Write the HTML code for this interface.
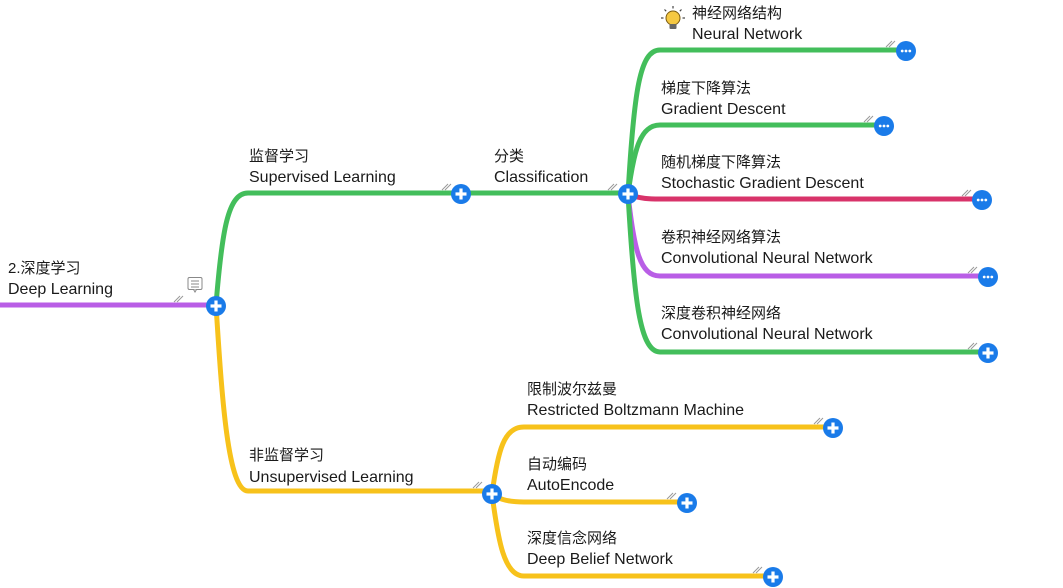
<!DOCTYPE html>
<html><head><meta charset="utf-8"><style>
html,body{margin:0;padding:0;background:#fff;width:1063px;height:588px;overflow:hidden}
svg text{font-family:"Liberation Sans","Noto Sans CJK SC",sans-serif;font-size:15px;fill:#1a1a1a}
svg text.e{font-size:16px}
</style></head><body>
<svg width="1063" height="588" viewBox="0 0 1063 588" xmlns="http://www.w3.org/2000/svg">
<defs>
<g id="plus"><circle r="10" fill="#1a7be9"/><rect x="-5.5" y="-1.6" width="11" height="3.2" fill="#fff"/><rect x="-1.6" y="-5.5" width="3.2" height="11" fill="#fff"/></g>
<g id="dots"><circle r="10" fill="#1a7be9"/><circle cx="-3.8" r="1.4" fill="#fff"/><circle r="1.4" fill="#fff"/><circle cx="3.8" r="1.4" fill="#fff"/></g>
<g id="hash" stroke="#999" stroke-width="1"><line x1="-4" y1="3" x2="2" y2="-3"/><line x1="-1" y1="3" x2="5" y2="-3"/></g>
</defs>
<g fill="none" stroke-width="5" stroke-linecap="round">
<path d="M0,305 L216,305" stroke="#b95ee6"/>
<path d="M216,305 C222,230 228,193 248,193 L461,193 L628,193" stroke="#43be5b"/>
<path d="M216,305 C222,400 228,491 248,491 L492,491" stroke="#f7c21b"/>
<path d="M628,194 C634,90 640,50 660,50 L905,50" stroke="#43be5b"/>
<path d="M628,194 C634,150 640,125 660,125 L883,125" stroke="#43be5b"/>
<path d="M628,194 C640,199 650,199 660,199 L982,199" stroke="#d8336a"/>
<path d="M628,194 C634,250 640,276 660,276 L988,276" stroke="#b95ee6"/>
<path d="M628,194 C634,300 640,352 660,352 L988,352" stroke="#43be5b"/>
<path d="M492,494 C498,450 504,427 524,427 L833,427" stroke="#f7c21b"/>
<path d="M492,494 C500,500 510,502 524,502 L687,502" stroke="#f7c21b"/>
<path d="M492,494 C498,540 504,576 524,576 L773,576" stroke="#f7c21b"/>
</g>
<use href="#hash" x="178" y="299"/><use href="#hash" x="446" y="187"/><use href="#hash" x="612" y="187"/>
<use href="#hash" x="477" y="485"/><use href="#hash" x="890" y="44"/><use href="#hash" x="868" y="119"/>
<use href="#hash" x="966" y="193"/><use href="#hash" x="972" y="270"/><use href="#hash" x="972" y="346"/>
<use href="#hash" x="818" y="421"/><use href="#hash" x="671" y="496"/><use href="#hash" x="757" y="570"/>
<use href="#plus" x="216" y="306"/><use href="#plus" x="461" y="194"/><use href="#plus" x="628" y="194"/>
<use href="#plus" x="492" y="494"/><use href="#plus" x="988" y="353"/><use href="#plus" x="833" y="428"/>
<use href="#plus" x="687" y="503"/><use href="#plus" x="773" y="577"/>
<use href="#dots" x="906" y="51"/><use href="#dots" x="884" y="126"/><use href="#dots" x="982" y="200"/><use href="#dots" x="988" y="277"/>
<g transform="translate(195,284)"><rect x="-7" y="-6.5" width="14" height="12" rx="1.5" fill="#fff" stroke="#888" stroke-width="1"/><line x1="-4" y1="-3" x2="4" y2="-3" stroke="#888"/><line x1="-4" y1="0" x2="4" y2="0" stroke="#888"/><line x1="-4" y1="3" x2="4" y2="3" stroke="#888"/><path d="M-1.5,5.5 L0,8 L1.5,5.5" fill="#fff" stroke="#888"/></g>
<g transform="translate(673,18)"><circle r="7" fill="#f5c842" stroke="#7a5a10" stroke-width="1"/><rect x="-3.5" y="6" width="7" height="5" rx="1" fill="#666"/><g stroke="#444" stroke-width="1.2"><line x1="-12" y1="0" x2="-9.5" y2="0"/><line x1="9.5" y1="0" x2="12" y2="0"/><line x1="0" y1="-12" x2="0" y2="-9.5"/><line x1="-8.5" y1="-8.5" x2="-6.8" y2="-6.8"/><line x1="8.5" y1="-8.5" x2="6.8" y2="-6.8"/></g></g>
<text x="8" y="273">2.深度学习</text><text class="e" x="8" y="294">Deep Learning</text>
<text x="249" y="161">监督学习</text><text class="e" x="249" y="182">Supervised Learning</text>
<text x="249" y="460">非监督学习</text><text class="e" x="249" y="482">Unsupervised Learning</text>
<text x="494" y="161">分类</text><text class="e" x="494" y="182">Classification</text>
<text x="692" y="18">神经网络结构</text><text class="e" x="692" y="39">Neural Network</text>
<text x="661" y="93">梯度下降算法</text><text class="e" x="661" y="114">Gradient Descent</text>
<text x="661" y="167">随机梯度下降算法</text><text class="e" x="661" y="188">Stochastic Gradient Descent</text>
<text x="661" y="242">卷积神经网络算法</text><text class="e" x="661" y="263">Convolutional Neural Network</text>
<text x="661" y="318">深度卷积神经网络</text><text class="e" x="661" y="339">Convolutional Neural Network</text>
<text x="527" y="394">限制波尔兹曼</text><text class="e" x="527" y="415">Restricted Boltzmann Machine</text>
<text x="527" y="469">自动编码</text><text class="e" x="527" y="490">AutoEncode</text>
<text x="527" y="543">深度信念网络</text><text class="e" x="527" y="564">Deep Belief Network</text>
</svg>
</body></html>
